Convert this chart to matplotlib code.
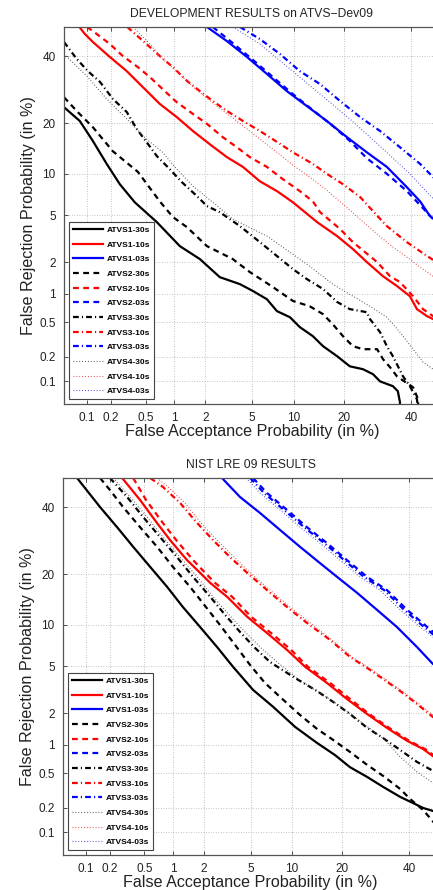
import math
import numpy as np
import matplotlib
matplotlib.use('Agg')
from matplotlib import pyplot as plt
from matplotlib.ticker import NullLocator

plt.rcParams['font.family'] = ['Liberation Sans', 'DejaVu Sans']

# ---- DET curves, (false acceptance %, false rejection %)
# development set, ATVS-Dev09
dev_a1_30_fa = [0.05, 0.081, 0.119, 0.177, 0.254, 0.378, 0.66, 1.14, 1.78, 2.70, 4.0, 5.08, 6.49, 7.68,
                9.46, 11.0, 13.3, 15.3, 18.4, 21.5, 25.0, 27.9, 30.0, 34.0, 35.6, 36.3, 36.3]
dev_a1_30_fr = [24.2, 20.6, 16.0, 11.6, 8.5, 6.3, 4.43, 2.79, 2.14, 1.45, 1.24, 1.06, 0.875, 0.657,
                0.565, 0.44, 0.348, 0.267, 0.203, 0.153, 0.141, 0.122, 0.099, 0.086, 0.074, 0.053, 0.04]
dev_a2_30_fa = [0.05, 0.076, 0.119, 0.21, 0.41, 0.71, 0.97, 1.34, 2.07, 3.49, 4.81, 7.19, 9.9, 12.7,
                15.3, 17.4, 19.8, 22.3, 25.0, 29.1, 30.9, 33.1, 35.3, 40.7, 42.4, 42.4]
dev_a2_30_fr = [27.0, 22.9, 19.1, 13.9, 10.3, 6.4, 4.86, 4.03, 2.79, 2.14, 1.62, 1.16, 0.84, 0.74,
                0.61, 0.474, 0.348, 0.267, 0.246, 0.246, 0.187, 0.149, 0.115, 0.083, 0.058, 0.04]
dev_a3_30_fa = [0.05, 0.074, 0.103, 0.146, 0.21, 0.306, 0.40, 0.51, 0.66, 0.90, 1.19, 1.67, 2.07, 2.70,
                4.0, 5.75, 7.68, 9.9, 12.2, 15.3, 18.4, 21.5, 26.1, 27.0, 30.0, 32.1, 34.0, 37.3, 39.6,
                42.0, 42.5]
dev_a3_30_fr = [44.8, 39.0, 35.0, 31.6, 26.5, 22.9, 18.6, 15.8, 13.0, 10.75, 8.8, 7.0, 5.9, 5.3,
                4.11, 3.02, 2.28, 1.73, 1.39, 1.11, 0.82, 0.69, 0.64, 0.54, 0.386, 0.267, 0.203, 0.115,
                0.086, 0.058, 0.04]
dev_a4_30_fa = [0.05, 0.10, 0.177, 0.306, 0.51, 0.76, 1.06, 1.53, 2.34, 3.49, 6.49, 9.46, 12.7, 17.4,
                22.3, 27.0, 32.1, 36.3, 40.7, 44.1, 47.6, 50.0]
dev_a4_30_fr = [40.7, 33.4, 26.5, 21.1, 16.4, 13.7, 10.75, 8.25, 6.3, 4.68, 3.40, 2.47, 1.84, 1.24,
                0.94, 0.74, 0.565, 0.386, 0.246, 0.172, 0.141, 0.13]
dev_a1_10_fa = [0.08, 0.094, 0.119, 0.193, 0.306, 0.465, 0.71, 1.06, 1.53, 2.20, 3.11, 4.23, 5.75, 7.68,
                9.9, 14.1, 18.4, 22.3, 26.1, 30.9, 35.3, 39.6, 42.0, 45.5, 47.6, 50.0]
dev_a1_10_fr = [50.0, 47.6, 44.8, 39.7, 35.0, 30.0, 25.1, 21.6, 18.2, 15.3, 12.8, 11.1, 8.9, 7.6,
                6.3, 4.43, 3.40, 2.63, 2.01, 1.48, 1.19, 0.94, 0.69, 0.58, 0.54, 0.50]
dev_a2_10_fa = [0.10, 0.119, 0.193, 0.275, 0.41, 0.556, 0.80, 1.06, 1.53, 2.07, 2.87, 3.77, 4.81, 6.49,
                8.46, 11.0, 13.3, 14.7, 19.1, 22.3, 29.1, 33.1, 36.3, 40.7, 44.1, 47.6, 50.0]
dev_a2_10_fr = [50.0, 48.6, 44.1, 40.0, 36.3, 33.1, 28.8, 25.6, 22.4, 19.9, 16.8, 14.7, 12.8, 11.1,
                9.2, 7.6, 6.4, 5.3, 3.89, 3.02, 2.01, 1.48, 1.30, 0.94, 0.69, 0.58, 0.55]
dev_a3_10_fa = [0.31, 0.51, 0.71, 0.97, 1.34, 1.78, 2.34, 3.11, 4.23, 5.75, 7.68, 9.9, 13.3, 16.1,
                19.8, 24.2, 27.6, 32.1, 38.6, 45.5, 50.0]
dev_a3_10_fr = [50.0, 44.1, 40.0, 36.3, 31.9, 28.8, 25.9, 23.2, 20.6, 18.2, 15.8, 13.7, 11.6, 10.0,
                8.5, 6.9, 5.5, 4.11, 3.02, 2.28, 1.92]
dev_a4_10_fa = [0.36, 0.556, 0.76, 1.06, 1.43, 1.90, 2.54, 3.30, 4.38, 5.75, 7.68, 9.9, 12.7, 16.1,
                19.8, 24.2, 29.1, 34.0, 38.6, 43.1, 47.6, 50.0]
dev_a4_10_fr = [50.0, 44.1, 39.0, 35.0, 30.9, 27.6, 24.5, 21.9, 19.1, 16.4, 13.7, 11.4, 9.5, 7.7,
                6.1, 4.68, 3.53, 2.74, 2.23, 1.80, 1.48, 1.38]
dev_a1_03_fa = [2.07, 3.11, 4.55, 6.49, 9.0, 12.2, 16.1, 20.8, 26.1, 32.1, 38.6, 43.1, 46.5, 50.0]
dev_a1_03_fr = [50.0, 45.1, 39.7, 34.1, 28.8, 24.5, 20.6, 16.8, 13.7, 11.1, 8.1, 6.4, 4.94, 4.27]
dev_a2_03_fa = [2.34, 3.49, 5.08, 7.19, 9.9, 13.3, 17.4, 21.5, 26.1, 32.1, 38.6, 43.1, 47.6, 50.0]
dev_a2_03_fr = [50.0, 44.4, 38.7, 33.1, 27.9, 23.4, 19.4, 16.0, 12.6, 10.0, 7.6, 6.0, 4.68, 4.03]
dev_a3_03_fa = [4.0, 5.75, 8.06, 11.0, 14.7, 19.1, 24.2, 30.0, 36.3, 43.1, 47.6, 50.0]
dev_a3_03_fr = [50.0, 45.8, 40.7, 35.0, 30.9, 25.9, 21.6, 18.2, 14.7, 11.6, 9.5, 8.8]
dev_a4_03_fa = [3.49, 5.75, 9.46, 14.7, 21.5, 30.0, 39.6, 47.6, 50.0]
dev_a4_03_fr = [50.0, 44.1, 35.7, 27.9, 21.1, 14.9, 10.0, 6.7, 6.3]

# NIST LRE 09 evaluation
lre_a1_30_fa = [0.077, 0.151, 0.243, 0.374, 0.577, 0.873, 1.26, 1.84, 2.63, 3.61, 5.23, 7.40, 10.5,
                14.4, 18.3, 22.0, 26.7, 31.5, 37.0, 41.3, 44.8, 48.2, 50.0]
lre_a1_30_fr = [50.0, 40.0, 33.4, 27.4, 21.9, 17.1, 13.0, 9.68, 7.0, 4.96, 3.22, 2.29, 1.49,
                1.04, 0.78, 0.58, 0.454, 0.351, 0.269, 0.228, 0.199, 0.183, 0.18]
lre_a2_30_fa = [0.151, 0.20, 0.286, 0.447, 0.685, 1.00, 1.48, 2.05, 2.79, 3.75, 4.96, 6.45, 8.29, 11.3,
                14.4, 17.9, 22.0, 26.7, 31.5, 37.0, 40.3, 44.8, 47.2, 49.3]
lre_a2_30_fr = [50.0, 45.8, 40.0, 33.4, 27.4, 21.9, 17.1, 13.2, 9.97, 7.25, 5.13, 3.68, 2.80, 1.93,
                1.43, 1.11, 0.84, 0.614, 0.466, 0.332, 0.255, 0.188, 0.150, 0.123]
lre_a3_30_fa = [0.20, 0.319, 0.483, 0.737, 1.10, 1.58, 2.28, 3.09, 4.12, 5.42, 7.03, 10.2, 14.4, 17.9,
                22.0, 26.7, 31.5, 37.0, 42.7, 48.2, 50.0]
lre_a3_30_fr = [50.0, 43.4, 36.7, 30.3, 24.5, 19.4, 15.0, 11.6, 8.95, 6.9, 5.41, 4.13, 3.15, 2.53,
                1.97, 1.46, 1.16, 0.88, 0.66, 0.53, 0.49]
lre_a4_30_fa = [0.218, 0.345, 0.534, 0.79, 1.18, 1.73, 2.42, 3.34, 4.52, 6.03, 7.9, 10.97, 15.0, 18.8,
                22.8, 27.6, 32.1, 37.0, 42.7, 48.2, 50.0]
lre_a4_30_fr = [50.0, 43.4, 36.7, 30.3, 24.5, 19.4, 15.0, 11.6, 8.95, 6.9, 5.41, 3.97, 3.03, 2.43,
                1.89, 1.43, 1.11, 0.745, 0.516, 0.39, 0.35]
lre_a1_10_fa = [0.279, 0.447, 0.685, 0.936, 1.38, 1.84, 2.28, 3.21, 4.70, 6.68, 9.27, 12.2, 16.5, 21.2,
                26.7, 32.7, 39.3, 44.8, 48.2, 50.0]
lre_a1_10_fr = [50.0, 42.4, 34.7, 29.4, 23.7, 20.4, 18.0, 15.0, 11.3, 8.8, 6.67, 4.96, 3.68, 2.69,
                1.97, 1.46, 1.09, 0.90, 0.76, 0.71]
lre_a2_10_fa = [0.374, 0.52, 0.79, 1.08, 1.58, 2.05, 2.52, 3.54, 5.05, 7.15, 9.88, 12.7, 17.2, 22.0,
                27.3, 33.4, 40.0, 45.5, 50.0]
lre_a2_10_fr = [50.0, 42.4, 34.7, 29.4, 23.7, 20.4, 18.0, 15.0, 11.3, 8.8, 6.67, 4.96, 3.68, 2.69,
                1.97, 1.46, 1.09, 0.90, 0.72]
lre_a3_10_fa = [0.577, 0.79, 1.18, 1.73, 2.42, 3.40, 4.70, 6.68, 9.27, 12.5, 17.2, 22.0, 26.7, 31.5,
                37.0, 42.7, 48.2, 50.0]
lre_a3_10_fr = [50.0, 46.9, 41.4, 34.7, 29.4, 24.5, 20.4, 16.4, 13.0, 10.3, 7.87, 5.92, 4.87, 3.97,
                3.15, 2.43, 1.85, 1.74]
lre_a4_10_fa = [0.685, 0.89, 1.32, 1.88, 2.63, 3.68, 4.96, 7.03, 9.7, 13.1, 17.6, 22.5, 27.3, 32.1,
                37.6, 43.4, 49.0]
lre_a4_10_fr = [50.0, 46.9, 41.4, 34.7, 29.4, 24.5, 20.4, 16.4, 13.0, 10.3, 7.87, 5.92, 4.87, 3.97,
                3.15, 2.43, 1.85]
lre_a1_03_fa = [2.90, 4.12, 5.92, 8.29, 11.3, 15.0, 18.8, 23.9, 29.6, 35.9, 42.7, 48.2, 50.0]
lre_a1_03_fr = [50.0, 43.4, 38.0, 32.5, 27.4, 22.9, 19.4, 15.8, 12.5, 9.68, 7.0, 5.23, 4.9]
lre_a2_03_fa = [5.23, 6.68, 9.27, 12.5, 16.5, 21.2, 26.7, 32.7, 39.3, 46.2, 50.0]
lre_a2_03_fr = [50.0, 44.8, 39.0, 33.4, 28.5, 23.7, 19.4, 16.4, 12.5, 9.68, 8.4]
lre_a3_03_fa = [4.96, 6.35, 8.83, 12.0, 15.9, 20.5, 25.8, 31.8, 38.3, 45.1, 50.0]
lre_a3_03_fr = [50.0, 44.8, 39.0, 33.4, 28.5, 23.7, 19.4, 16.4, 12.5, 9.68, 8.1]
lre_a4_03_fa = [4.61, 5.92, 8.29, 11.3, 15.0, 19.5, 24.7, 30.5, 37.0, 43.7, 50.0]
lre_a4_03_fr = [50.0, 44.8, 39.0, 33.4, 28.5, 23.7, 19.4, 16.4, 12.5, 9.68, 7.75]

labels = ['ATVS1-30s', 'ATVS1-10s', 'ATVS1-03s', 'ATVS2-30s', 'ATVS2-10s', 'ATVS2-03s',
          'ATVS3-30s', 'ATVS3-10s', 'ATVS3-03s', 'ATVS4-30s', 'ATVS4-10s', 'ATVS4-03s']
tick_vals = [0.1, 0.2, 0.5, 1, 2, 5, 10, 20, 40]
tick_txt = ['0.1', '0.2', '0.5', '1', '2', '5', '10', '20', '40']

dev_curves = [(dev_a1_30_fa, dev_a1_30_fr), (dev_a1_10_fa, dev_a1_10_fr), (dev_a1_03_fa, dev_a1_03_fr),
              (dev_a2_30_fa, dev_a2_30_fr), (dev_a2_10_fa, dev_a2_10_fr), (dev_a2_03_fa, dev_a2_03_fr),
              (dev_a3_30_fa, dev_a3_30_fr), (dev_a3_10_fa, dev_a3_10_fr), (dev_a3_03_fa, dev_a3_03_fr),
              (dev_a4_30_fa, dev_a4_30_fr), (dev_a4_10_fa, dev_a4_10_fr), (dev_a4_03_fa, dev_a4_03_fr)]
lre_curves = [(lre_a1_30_fa, lre_a1_30_fr), (lre_a1_10_fa, lre_a1_10_fr), (lre_a1_03_fa, lre_a1_03_fr),
              (lre_a2_30_fa, lre_a2_30_fr), (lre_a2_10_fa, lre_a2_10_fr), (lre_a2_03_fa, lre_a2_03_fr),
              (lre_a3_30_fa, lre_a3_30_fr), (lre_a3_10_fa, lre_a3_10_fr), (lre_a3_03_fa, lre_a3_03_fr),
              (lre_a4_30_fa, lre_a4_30_fr), (lre_a4_10_fa, lre_a4_10_fr), (lre_a4_03_fa, lre_a4_03_fr)]

# normal deviate scale for the DET axes
_z = np.linspace(-6, 6, 6001)
_p = 50.0 * np.array([math.erfc(-v / math.sqrt(2.0)) for v in _z])

def pct_to_dev(p):
  return np.interp(np.asarray(p, dtype=float), _p, _z)

def dev_to_pct(z):
  return np.interp(np.asarray(z, dtype=float), _z, _p)

colors = ['black', 'red', 'blue']
dot_colors = ['#505050', '#e84040', '#4a4ad8']
styles = [dict(ls='-', lw=1.6),
          dict(ls=(0, (2.6, 2.0)), lw=1.6),
          dict(ls=(0, (2.6, 1.4, 0.5, 1.4)), lw=1.6),
          dict(ls=(0, (0.8, 1.8)), lw=0.8)]


def plotDet(ax, curves, title):
  ax.set_xscale('function', functions=(pct_to_dev, dev_to_pct))
  ax.set_yscale('function', functions=(pct_to_dev, dev_to_pct))
  handles = []
  for i, (fa, fr) in enumerate(curves):
    st = styles[i // 3]
    col = dot_colors[i % 3] if i >= 9 else colors[i % 3]
    h, = ax.plot(fa, fr, color=col, **st)
    handles.append(h)
  ax.set_xlim(0.05, 50)
  ax.set_ylim(0.05, 50)
  for axis in (ax.xaxis, ax.yaxis):
    axis.set_minor_locator(NullLocator())
  ax.set_xticks(tick_vals)
  ax.set_xticklabels(tick_txt)
  ax.set_yticks(tick_vals)
  ax.set_yticklabels(tick_txt)
  ax.tick_params(direction='in', length=3, width=0.6, labelsize=8.5, pad=6,
                 top=True, right=True, colors='#333333', labelcolor='#222222')
  ax.grid(True, ls=(0, (1, 2)), color='#b0b0b0', lw=0.6)
  for s in ax.spines.values():
    s.set_color('#555555')
    s.set_linewidth(0.9)
  ax.set_title(title, fontsize=8.7, pad=7, color='#222222')
  ax.set_xlabel('False Acceptance Probability (in %)', fontsize=11.6, labelpad=0, color='#222222')
  ax.set_ylabel('False Rejection Probability (in %)', fontsize=11.6, labelpad=2, color='#222222')
  leg = ax.legend(handles, labels, loc='lower left', bbox_to_anchor=(0.013, 0.013), borderaxespad=0,
                  prop={'size': 6, 'weight': 'bold'}, handlelength=3.6, handletextpad=0.5,
                  labelspacing=0.82, borderpad=0.45, fancybox=False, framealpha=1)
  leg.get_frame().set_edgecolor('#444444')
  leg.get_frame().set_linewidth(0.8)


fig = plt.figure(figsize=(4.33, 8.90), dpi=100)
ax1 = fig.add_axes([64 / 433, 1 - 404 / 890, 376 / 433, 377 / 890])
ax2 = fig.add_axes([63 / 433, 1 - 855 / 890, 375 / 433, 377 / 890])
plotDet(ax1, dev_curves, 'DEVELOPMENT RESULTS on ATVS\u2212Dev09')
plotDet(ax2, lre_curves, 'NIST LRE 09 RESULTS')
fig.savefig('out.png', dpi=100)
